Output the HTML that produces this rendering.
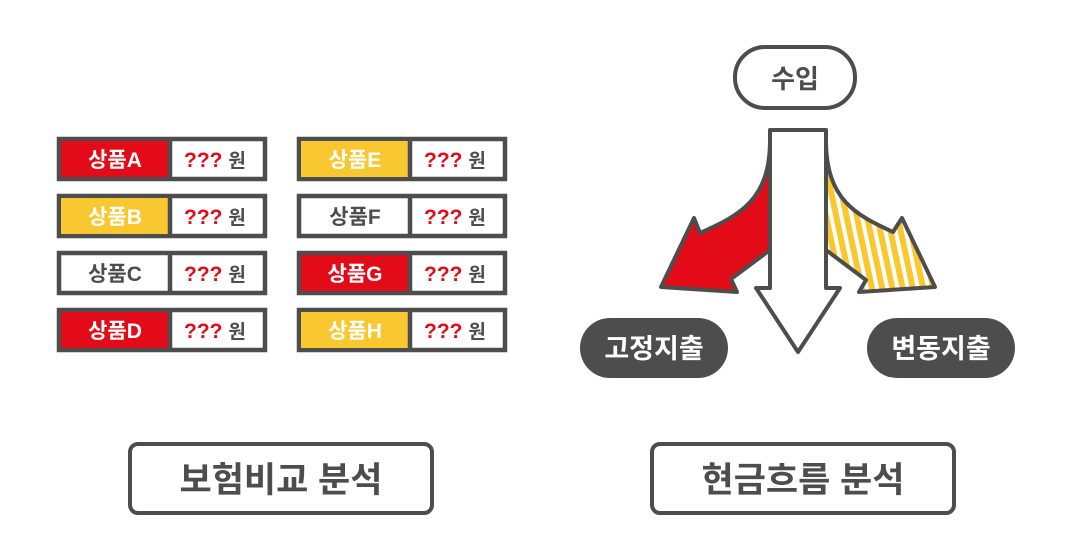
<!DOCTYPE html>
<html><head><meta charset="utf-8"><style>
html,body{margin:0;padding:0;background:#fff;}
svg{display:block;}
text{font-family:"Liberation Sans","Noto Sans CJK KR",sans-serif;font-weight:bold;}
</style></head><body>
<svg width="1070" height="550" viewBox="0 0 1070 550">
<defs>
<pattern id="st" width="10" height="10" patternUnits="userSpaceOnUse" patternTransform="rotate(-12)">
<rect width="10" height="10" fill="#fff"/><rect width="6" height="10" fill="#f9c72f"/>
</pattern>
</defs>
<g stroke="#4d4d4d" stroke-width="4.5">
<rect x="59" y="139" width="206" height="40" fill="#fff"/><rect x="61" y="141" width="109" height="36" fill="#e30b17" stroke="none"/><line x1="170" y1="139" x2="170" y2="179"/>
<rect x="59" y="196" width="206" height="40" fill="#fff"/><rect x="61" y="198" width="109" height="36" fill="#f9c72f" stroke="none"/><line x1="170" y1="196" x2="170" y2="236"/>
<rect x="59" y="253" width="206" height="40" fill="#fff"/><line x1="170" y1="253" x2="170" y2="293"/>
<rect x="59" y="310" width="206" height="40" fill="#fff"/><rect x="61" y="312" width="109" height="36" fill="#e30b17" stroke="none"/><line x1="170" y1="310" x2="170" y2="350"/>
<rect x="299" y="139" width="206" height="40" fill="#fff"/><rect x="301" y="141" width="109" height="36" fill="#f9c72f" stroke="none"/><line x1="410" y1="139" x2="410" y2="179"/>
<rect x="299" y="196" width="206" height="40" fill="#fff"/><line x1="410" y1="196" x2="410" y2="236"/>
<rect x="299" y="253" width="206" height="40" fill="#fff"/><rect x="301" y="255" width="109" height="36" fill="#e30b17" stroke="none"/><line x1="410" y1="253" x2="410" y2="293"/>
<rect x="299" y="310" width="206" height="40" fill="#fff"/><rect x="301" y="312" width="109" height="36" fill="#f9c72f" stroke="none"/><line x1="410" y1="310" x2="410" y2="350"/>
</g>
<g font-size="21" text-anchor="middle">
<text x="115" y="167" fill="#fff">상품A</text>
<text x="115" y="224" fill="#fff">상품B</text>
<text x="115" y="281" fill="#4d4d4d">상품C</text>
<text x="115" y="338" fill="#fff">상품D</text>
<text x="355" y="167" fill="#fff">상품E</text>
<text x="355" y="224" fill="#4d4d4d">상품F</text>
<text x="355" y="281" fill="#fff">상품G</text>
<text x="355" y="338" fill="#fff">상품H</text>
</g>
<g font-size="21">
<text x="184" y="167"><tspan fill="#e30b17">???</tspan> <tspan fill="#4d4d4d" font-size="19">원</tspan></text>
<text x="184" y="224"><tspan fill="#e30b17">???</tspan> <tspan fill="#4d4d4d" font-size="19">원</tspan></text>
<text x="184" y="281"><tspan fill="#e30b17">???</tspan> <tspan fill="#4d4d4d" font-size="19">원</tspan></text>
<text x="184" y="338"><tspan fill="#e30b17">???</tspan> <tspan fill="#4d4d4d" font-size="19">원</tspan></text>
<text x="424" y="167"><tspan fill="#e30b17">???</tspan> <tspan fill="#4d4d4d" font-size="19">원</tspan></text>
<text x="424" y="224"><tspan fill="#e30b17">???</tspan> <tspan fill="#4d4d4d" font-size="19">원</tspan></text>
<text x="424" y="281"><tspan fill="#e30b17">???</tspan> <tspan fill="#4d4d4d" font-size="19">원</tspan></text>
<text x="424" y="338"><tspan fill="#e30b17">???</tspan> <tspan fill="#4d4d4d" font-size="19">원</tspan></text>
</g>
<g stroke="#4d4d4d" stroke-width="4" stroke-linejoin="round">
<path d="M770,140 C770,200 740,215 700,233 L694,218 L661,287 L737,292 L731,279 L770,250 Z" fill="#e30b17"/>
<path d="M826,140 C826,200 856,215 893,232 L902,218 L935,287 L859,292 L866,280 L826,250 Z" fill="url(#st)"/>
<path d="M770,130 L826,130 L826,288 L840,288 L798,352 L756,288 L770,288 Z" fill="#fff"/>
</g>
<rect x="735" y="47" width="120" height="61" rx="30" fill="#fff" stroke="#4d4d4d" stroke-width="4"/>
<text x="795" y="88" font-size="26" text-anchor="middle" fill="#4d4d4d">수입</text>
<rect x="580" y="318" width="148" height="60" rx="30" fill="#4d4d4d"/>
<text x="654" y="358" font-size="27" text-anchor="middle" fill="#fff">고정지출</text>
<rect x="867" y="318" width="148" height="60" rx="30" fill="#4d4d4d"/>
<text x="941" y="358" font-size="27" text-anchor="middle" fill="#fff">변동지출</text>
<rect x="130" y="444" width="302" height="69" rx="8" fill="#fff" stroke="#4d4d4d" stroke-width="4"/>
<text x="281" y="492" font-size="35" text-anchor="middle" fill="#4d4d4d">보험비교 분석</text>
<rect x="652" y="444" width="302" height="69" rx="8" fill="#fff" stroke="#4d4d4d" stroke-width="4"/>
<text x="803" y="492" font-size="35" text-anchor="middle" fill="#4d4d4d">현금흐름 분석</text>
</svg>
</body></html>
